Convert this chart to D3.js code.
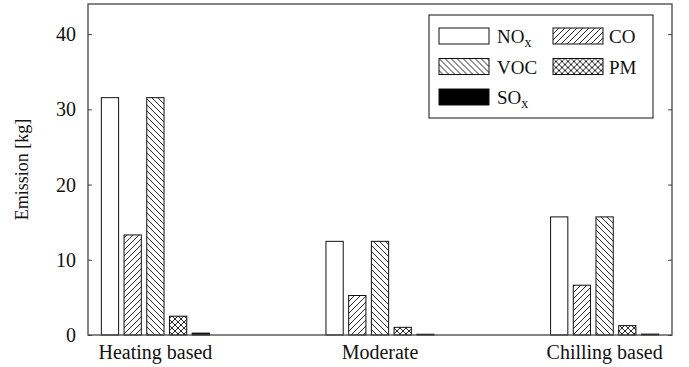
<!DOCTYPE html>
<html>
<head>
<meta charset="utf-8">
<script src="https://cdn.jsdelivr.net/npm/d3@7"></script>
<style>
    body { margin: 0; background: #fff; }
</style>
</head>
<body>
<div id="grafica"></div>
<script>
// data
const categories = ['Heating based', 'Moderate', 'Chilling based']
const series = ['NOx', 'CO', 'VOC', 'PM', 'SOx']
const nox = [31.55, 12.45, 15.7]
const co = [13.3, 5.25, 6.62]
const voc = [31.55, 12.45, 15.7]
const pm = [2.5, 1.02, 1.25]
const sox = [0.25, 0.1, 0.12]
const yTicks = [0, 10, 20, 30, 40]

const values = { NOx: nox, CO: co, VOC: voc, PM: pm, SOx: sox }
const fuente = "'Liberation Serif', 'Times New Roman', 'DejaVu Serif', serif"

const width = 689
const height = 367
const margin = { top: 4, right: 17, bottom: 32, left: 88 }
const innerW = width - margin.left - margin.right
const innerH = height - margin.top - margin.bottom

const svg = d3.select('#grafica')
    .append('svg')
    .attr('width', width)
    .attr('height', height)
    .attr('font-family', fuente)

// hatch patterns
const defs = svg.append('defs')
const s = 6
function hatch(id, d) {
    defs.append('pattern')
        .attr('id', id)
        .attr('patternUnits', 'userSpaceOnUse')
        .attr('width', s)
        .attr('height', s)
        .append('path')
        .attr('d', d)
        .attr('stroke', '#111')
        .attr('stroke-width', 0.9)
        .attr('fill', 'none')
}
const fwd = `M0,${s} L${s},0 M-1,1 L1,-1 M${s - 1},${s + 1} L${s + 1},${s - 1}`
const back = `M0,0 L${s},${s} M-1,${s - 1} L1,${s + 1} M${s - 1},-1 L${s + 1},1`
hatch('h-co', fwd)
hatch('h-voc', back)
hatch('h-pm', fwd + ' ' + back)

const fills = { NOx: '#fff', CO: 'url(#h-co)', VOC: 'url(#h-voc)', PM: 'url(#h-pm)', SOx: '#000' }

const g = svg.append('g')
    .attr('transform', `translate(${margin.left}, ${margin.top})`)

const x = d3.scaleLinear()
    .domain([-0.3, 2.3])
    .range([0, innerW])

const y = d3.scaleLinear()
    .domain([0, 44])
    .range([innerH, 0])

const step = x(1) - x(0)
const xSub = d3.scaleBand()
    .domain(series)
    .range([-step * 0.2527, step * 0.2527])
    .paddingInner(0.24)
    .paddingOuter(0.12)

// y ticks on both sides (inside)
g.append('g')
    .attr('class', 'y axis')
    .call(d3.axisRight(y).tickValues(yTicks).tickSize(4).tickFormat(''))
    .call(a => a.select('.domain').remove())
    .selectAll('line').attr('stroke', '#444')

g.append('g')
    .attr('class', 'y axis right')
    .attr('transform', `translate(${innerW}, 0)`)
    .call(d3.axisLeft(y).tickValues(yTicks).tickSize(4).tickFormat(''))
    .call(a => a.select('.domain').remove())
    .selectAll('line').attr('stroke', '#444')

g.selectAll('.ylabel')
    .data(yTicks)
    .enter().append('text')
    .attr('class', 'ylabel')
    .attr('x', -12)
    .attr('y', d => y(d))
    .attr('dy', '0.35em')
    .attr('fill', '#111')
    .style('font-family', fuente)
    .style('text-anchor', 'end')
    .style('font-size', '20px')
    .text(d => d)

// bars
const rows = []
categories.forEach((c, i) => {
    series.forEach(sr => {
        rows.push({ cat: i, serie: sr, value: values[sr][i] })
    })
})

g.selectAll('.bar')
    .data(rows)
    .enter().append('rect')
    .attr('class', 'bar')
    .attr('x', d => x(d.cat) + xSub(d.serie))
    .attr('y', d => y(d.value))
    .attr('width', xSub.bandwidth())
    .attr('height', d => y(0) - y(d.value))
    .attr('fill', d => fills[d.serie])
    .attr('stroke', '#111')
    .attr('stroke-width', 1)

// category labels
g.selectAll('.xlabel')
    .data(categories)
    .enter().append('text')
    .attr('class', 'xlabel')
    .attr('x', (d, i) => x(i))
    .attr('y', innerH + 24)
    .attr('fill', '#111')
    .style('font-family', fuente)
    .style('text-anchor', 'middle')
    .style('font-size', '20px')
    .text(d => d)

// frame
g.append('rect')
    .attr('x', 0)
    .attr('y', 0)
    .attr('width', innerW)
    .attr('height', innerH)
    .attr('fill', 'none')
    .attr('stroke', '#444')
    .attr('stroke-width', 1.3)

// y title
svg.append('text')
    .attr('transform', `translate(28, ${margin.top + y(22)}) rotate(-90)`)
    .attr('fill', '#111')
    .style('font-family', fuente)
    .style('text-anchor', 'middle')
    .style('font-size', '18px')
    .text('Emission [kg]')

// legend
const legend = svg.append('g')
    .attr('transform', 'translate(429, 15)')

legend.append('rect')
    .attr('width', 224)
    .attr('height', 103)
    .attr('fill', '#fff')
    .attr('stroke', '#111')
    .attr('stroke-width', 1)

const item = legend.selectAll('.item')
    .data(series)
    .enter().append('g')
    .attr('class', 'item')
    .attr('transform', (d, i) => `translate(${10 + (i % 2) * 114}, ${13 + Math.floor(i / 2) * 30.5})`)

item.append('rect')
    .attr('width', 50)
    .attr('height', 16)
    .attr('fill', d => fills[d])
    .attr('stroke', '#111')
    .attr('stroke-width', 1)

const label = item.append('text')
    .attr('x', (d, i) => i % 2 ? 56 : 58)
    .attr('y', 15)
    .attr('fill', '#111')
    .style('font-family', fuente)
    .style('font-size', '19px')

label.each(function (d) {
    const t = d3.select(this)
    if (d.endsWith('x')) {
        t.append('tspan').text(d.slice(0, -1))
        t.append('tspan').text('x')
            .attr('dy', 4)
            .style('font-size', '14px')
    } else {
        t.text(d)
    }
})
</script>
</body>
</html>
